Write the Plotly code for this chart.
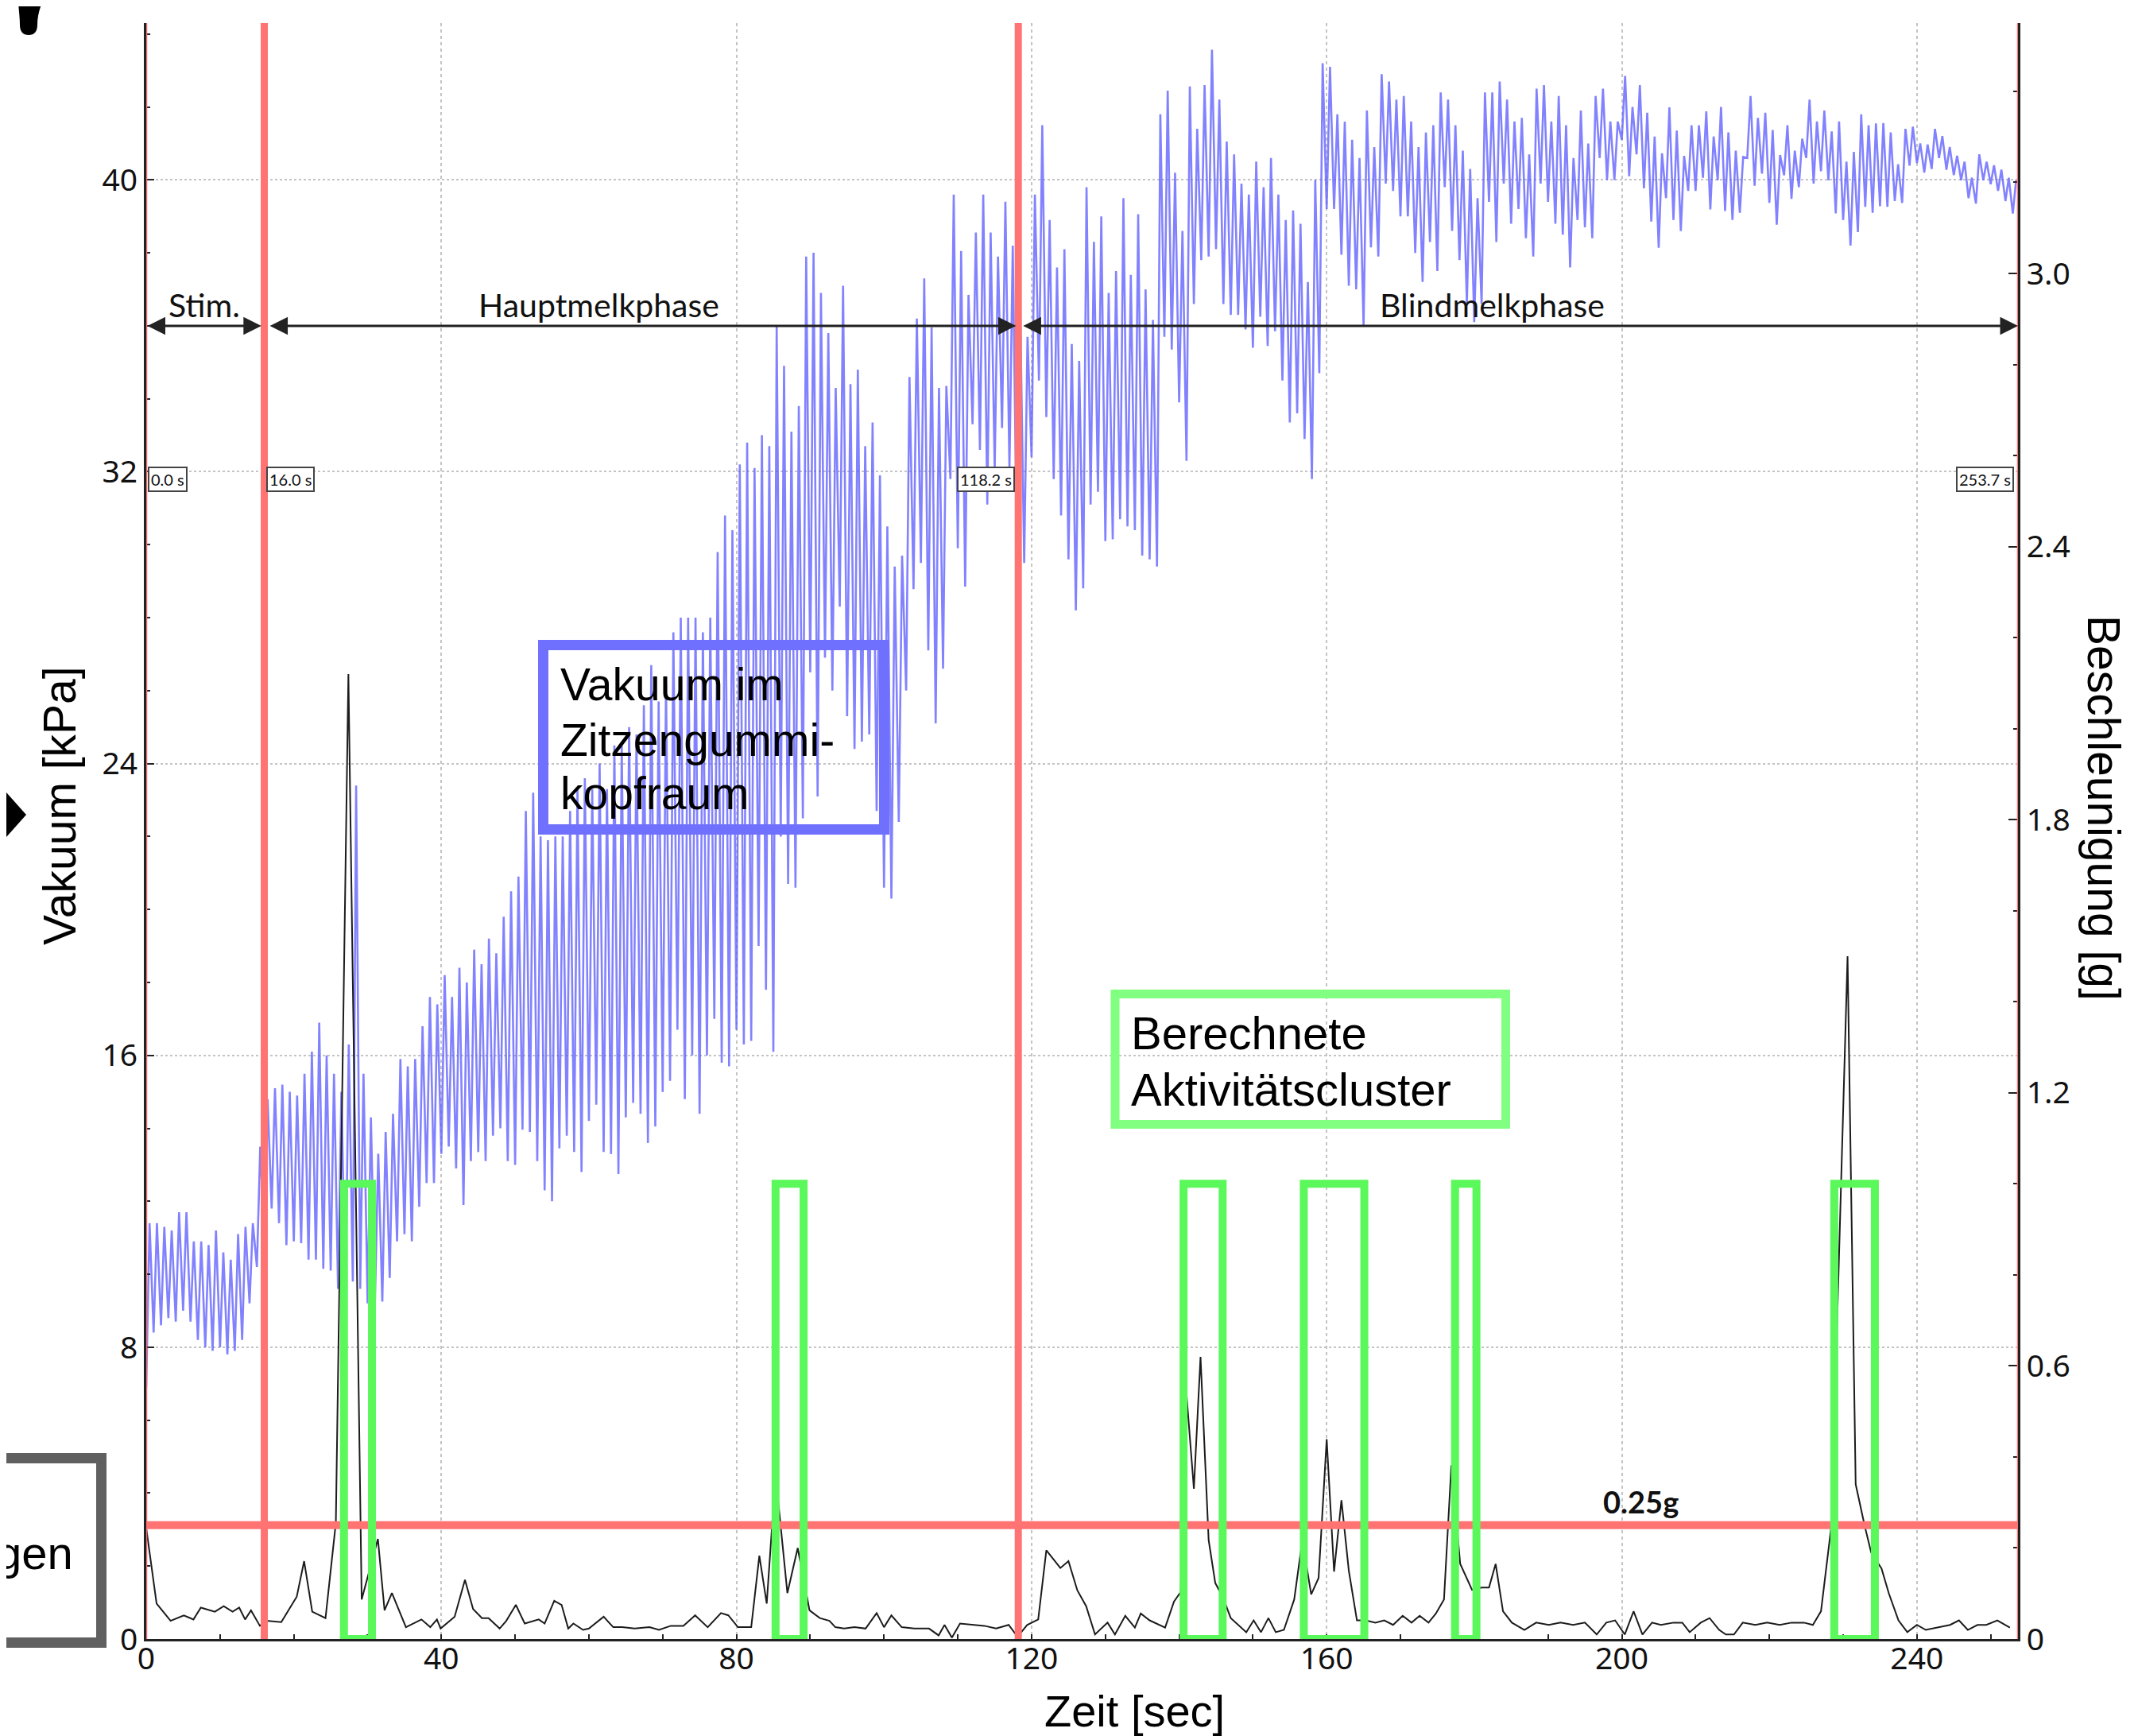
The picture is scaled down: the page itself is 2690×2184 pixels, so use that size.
import plotly.graph_objects as go

# ---------------- data ----------------
# Vacuum in the liner head space: one pulsation cycle per second, low / high value per cycle [kPa]
vac_lo = [
    6.9, 8.4, 8.6, 8.8, 8.7, 9.0, 8.7, 8.2, 8.0, 7.9, 8.0, 7.8, 7.9, 8.2, 9.2, 10.2,
    11.0,
    11.8, 11.4, 10.8, 10.9, 10.85, 10.4, 10.4, 10.15, 10.1, 9.6, 9.3, 9.8, 9.6, 9.2, 9.3, 9.25,
    9.9, 10.9, 11.1, 10.9, 11.85, 12.5,
    12.5, 13.3, 13.5, 12.9, 11.9, 13.1, 13.35, 13.1, 13.8, 14.0, 13.1,
    13.0, 13.96, 13.9, 13.1, 12.3, 12.0, 13.45, 13.8, 13.35, 12.8, 14.2, 14.65, 13.35, 13.3,
    12.75, 14.3, 14.7, 14.4, 13.6, 14.05, 15.0, 15.3, 16.7, 14.8, 16.0, 14.4, 16.0, 17.0,
    15.8, 15.7, 16.7, 16.3, 16.4, 19.0, 17.8, 16.1, 22.0, 20.7, 20.6, 22.5, 26.5, 23.1,
    26.9, 26.0, 28.3, 25.3, 24.4, 24.6, 24.8, 22.7, 20.6, 20.3, 22.4, 26.0,
    28.78, 29.5, 27.1, 25.1, 26.6, 31.8, 29.9, 28.85, 33.3, 32.6, 31.1, 32.06, 33.2, 32.06,
    30.0, 29.5, 32.4, 34.5, 33.5, 31.8, 30.8, 29.6, 28.2, 28.8, 31.1, 31.45, 30.1, 30.15,
    30.7, 30.5, 30.4, 29.7, 29.6, 29.4, 35.7, 35.35, 33.9, 32.3, 36.6, 37.8, 37.9, 38.1,
    36.6, 36.3, 36.3, 35.9, 35.4,
    36.25, 35.45, 35.85, 34.5, 33.35, 33.6, 32.9, 31.8, 34.7, 39.2, 39.2, 37.95, 37.1, 37.0,
    36.0, 38.15, 37.9, 39.9, 39.7, 39.0, 39.0, 38.0, 37.2, 38.3, 37.5, 39.8, 38.6, 37.8,
    36.6, 36.1, 36.6, 39.4, 38.3, 39.9, 38.8, 39.2, 38.4, 37.9, 39.9, 39.4, 38.8, 38.5,
    37.6, 38.9, 38.7, 38.4, 40.6, 40.0, 40.0, 41.1, 40.1, 40.7,
    39.77, 38.86, 38.14, 39.5, 38.9, 38.6, 39.7, 39.7, 40.06, 39.19, 39.99, 39.15, 38.9,
    39.1, 40.6, 39.84, 40.17, 39.37, 38.77, 40.13, 39.48, 39.8, 40.6, 39.9, 40.24, 39.99,
    39.08, 38.9, 38.2, 38.57, 39.26, 39.1, 39.28, 39.26, 39.42, 39.37, 40.39, 40.46, 40.2,
    40.3, 40.6, 40.28, 40.13, 39.99, 39.5, 39.35, 39.99, 39.88, 39.7, 39.42, 39.08,
]
vac_hi = [
    11.4, 11.4, 11.3, 11.2, 11.7, 11.7, 10.9, 10.9, 10.8, 11.2, 10.6, 10.4, 11.1, 11.3, 11.4, 13.5,
    14.8,
    15.1, 15.2, 15.0, 14.9, 15.5, 16.1, 16.9, 16.0, 15.5, 15.0, 16.3, 23.4, 15.5, 14.3, 13.3,
    13.9, 14.4, 15.9, 15.7, 15.9, 16.8, 17.6,
    17.4, 18.2, 17.6, 18.4, 18.0, 18.9, 18.5, 19.2, 18.8, 19.8,
    20.5, 20.9, 22.7, 23.2, 22.0, 21.9, 22.0, 22.0, 22.7, 23.3, 23.6, 23.3, 24.0, 23.3, 24.5,
    24.5, 25.0, 24.8, 25.6, 26.7, 25.7, 26.2, 27.6, 28.0, 28.0, 28.0, 27.6, 28.0, 29.8, 30.8,
    30.4, 32.2, 32.8, 32.1, 33.0, 32.7, 36.0, 34.9, 33.1, 33.8, 37.9, 38.0, 36.9, 35.8, 34.3,
    37.1, 34.4, 34.8, 32.7, 33.35, 31.9, 30.5, 29.4, 29.7, 34.6,
    36.2, 37.3, 35.96, 34.3, 34.35, 39.6, 38.05, 36.85, 38.56, 39.6, 38.56, 37.9, 39.4, 38.2,
    36.5, 35.7, 39.6, 41.5, 38.9, 37.6, 38.1, 35.5, 35.04, 39.8, 38.3, 39.0, 36.9, 37.5,
    39.5, 37.4, 39.06, 37.0, 36.16, 41.8, 42.45, 40.2, 38.6, 42.56, 41.4, 42.6, 43.57, 42.2,
    41.05, 40.7, 39.9, 39.6, 40.5, 39.8, 40.6,
    39.6, 38.9, 39.16, 38.8, 37.2, 40.0, 43.2, 43.1, 41.8, 41.6, 41.1, 40.6, 41.9, 40.9,
    42.9, 42.7, 42.2, 42.3, 41.6, 40.9, 41.3, 41.5, 42.4, 42.2, 41.5, 40.8, 40.3, 39.5,
    42.4, 42.4, 42.7, 42.2, 41.6, 41.7, 40.7, 42.5, 42.6, 41.6, 42.3, 41.5, 40.6, 41.9,
    41.0, 42.3, 42.5, 41.6, 41.6, 42.85, 42.0, 42.6,
    41.84, 41.19, 40.73, 41.99, 41.35, 40.66, 41.5, 41.5, 41.88, 41.19, 42.0, 41.3, 40.8,
    40.63, 42.3, 41.7, 41.84, 41.37, 40.68, 41.5, 40.8, 41.13, 42.2, 41.6, 41.9, 41.33,
    41.6, 40.5, 40.77, 41.8, 41.5, 41.55, 41.56, 41.3, 40.43, 41.4, 41.46, 41.0, 40.97,
    41.4, 41.2, 40.9, 40.66, 40.5, 40.06, 40.7, 40.5, 40.4, 40.28, 40.06, 40.0,
]

# Acceleration (right axis) [g]
acc_t = [
    0.0, 1.4, 3.3, 5.1, 6.4, 7.4, 9.3, 10.5, 11.7, 12.6,
    13.4, 14.2, 15.4, 16.3, 18.3, 20.4, 21.4, 22.5, 24.3, 25.7,
    27.4, 29.2, 31.4, 32.3, 33.3, 35.2, 37.3, 38.5, 39.4, 39.9,
    41.8, 43.2, 44.3, 45.5, 46.4, 47.9, 48.8, 50.1, 51.3, 53.2,
    54.0, 55.3, 56.3, 57.2, 57.9, 59.2, 60.0, 62.0, 63.3, 64.5,
    66.2, 68.2, 69.5, 71.1, 72.8, 74.4, 76.1, 77.9, 78.9, 80.2,
    82.0, 83.1, 84.1, 85.3, 86.9, 88.3, 89.9, 91.3, 92.6, 93.4,
    94.6, 96.0, 97.5, 99.0, 100.0, 101.0, 102.4, 104.1, 106.1, 107.4,
    108.2, 109.2, 110.3, 111.9, 113.6, 115.2, 116.9, 118.1, 119.4, 120.9,
    122.0, 123.9, 125.0, 126.2, 127.4, 128.6, 130.3, 131.3, 132.7, 134.0,
    134.8, 136.0, 138.1, 139.3, 140.2, 141.0, 142.0, 142.9, 144.0, 144.9,
    145.9, 147.0, 148.0, 149.1, 150.1, 151.1, 152.1, 153.1, 154.2, 155.6,
    156.7, 157.9, 158.9, 160.0, 161.0, 162.0, 163.0, 164.1, 165.3, 166.6,
    167.8, 169.0, 170.3, 171.5, 172.6, 173.8, 174.8, 175.9, 176.9, 178.1,
    179.7, 181.0, 182.0, 182.9, 183.9, 185.1, 186.8, 188.4, 190.1, 191.7,
    193.4, 195.0, 196.6, 197.9, 199.1, 200.4, 201.6, 202.8, 204.1, 205.3,
    207.0, 208.2, 209.2, 210.7, 211.9, 213.2, 214.1, 215.2, 216.4, 218.1,
    219.7, 221.4, 223.0, 224.7, 225.9, 227.0, 228.4, 229.5, 230.6, 231.7,
    232.9, 233.8, 235.2, 236.2, 237.5, 238.7, 240.0, 241.2, 242.8, 244.5,
    245.7, 246.9, 248.2, 249.4, 250.9, 252.6,
]
acc_g = [
    0.244, 0.078, 0.040, 0.052, 0.043, 0.069, 0.060, 0.072, 0.060, 0.069,
    0.043, 0.063, 0.029, 0.040, 0.037, 0.093, 0.171, 0.060, 0.046, 0.255,
    2.12, 0.087, 0.22, 0.063, 0.101, 0.026, 0.043, 0.026, 0.043, 0.023,
    0.049, 0.130, 0.066, 0.046, 0.046, 0.023, 0.040, 0.075, 0.034, 0.043,
    0.034, 0.084, 0.075, 0.023, 0.034, 0.020, 0.023, 0.049, 0.026, 0.026,
    0.023, 0.026, 0.020, 0.029, 0.029, 0.052, 0.026, 0.057, 0.052, 0.026,
    0.026, 0.183, 0.078, 0.360, 0.101, 0.20, 0.063, 0.046, 0.040, 0.026,
    0.023, 0.026, 0.023, 0.057, 0.026, 0.052, 0.026, 0.023, 0.023, 0.008,
    0.031, 0.003, 0.034, 0.031, 0.029, 0.023, 0.031, 0.005, 0.031, 0.043,
    0.195, 0.156, 0.171, 0.107, 0.072, 0.010, 0.036, 0.010, 0.051, 0.025,
    0.056, 0.041, 0.025, 0.082, 0.103, 0.537, 0.33, 0.62, 0.217, 0.123,
    0.093, 0.046, 0.031, 0.015, 0.041, 0.015, 0.046, 0.015, 0.020, 0.087,
    0.217, 0.098, 0.134, 0.439, 0.148, 0.305, 0.150, 0.041, 0.041, 0.036,
    0.041, 0.031, 0.051, 0.036, 0.051, 0.036, 0.056, 0.087, 0.382, 0.165,
    0.108, 0.113, 0.113, 0.165, 0.061, 0.036, 0.020, 0.036, 0.031, 0.036,
    0.031, 0.036, 0.010, 0.036, 0.041, 0.010, 0.061, 0.010, 0.036, 0.031,
    0.036, 0.036, 0.015, 0.036, 0.046, 0.020, 0.010, 0.010, 0.036, 0.031,
    0.036, 0.031, 0.036, 0.036, 0.031, 0.061, 0.248, 0.87, 1.50, 0.34,
    0.25, 0.19, 0.155, 0.10, 0.041, 0.015, 0.031, 0.020, 0.025, 0.031,
    0.041, 0.020, 0.031, 0.031, 0.041, 0.025,
]

# Calculated activity clusters [s]
cluster_start = [26.8, 85.3, 140.6, 156.9, 177.4, 228.8]
cluster_end = [30.6, 89.1, 145.9, 165.1, 180.3, 234.3]
cluster_top_g = 1.0

phase_marks = [0.0, 16.0, 118.2, 253.7]
phase_mark_labels = ["0.0 s", "16.0 s", "118.2 s", "253.7 s"]
phase_names = ["Stim.", "Hauptmelkphase", "Blindmelkphase"]
threshold_g = 0.25

x_ticks = [0, 40, 80, 120, 160, 200, 240]
vac_ticks = [0, 8, 16, 24, 32, 40]
acc_ticks = [0, 0.6, 1.2, 1.8, 2.4, 3.0]
acc_ticktext = ["0", "0.6", "1.2", "1.8", "2.4", "3.0"]

# ---------------- layout geometry (page pixels) ----------------
PAGE_W, PAGE_H = 2690, 2184
OFF = 8                       # default body margin of the html page
W, H = PAGE_W - OFF, PAGE_H - OFF
L, R, T, B = 184, 2539, 29, 2062   # plot area in page pixels


def px(x):
    return (x - L) / (R - L)


def py(y):
    return (B - y) / (B - T)


vac_t, vac_v = [], []
for i, (lo, hi) in enumerate(zip(vac_lo, vac_hi)):
    vac_t += [i, i + 0.45]
    vac_v += [lo, hi]

fig = go.Figure()
fig.add_trace(go.Scatter(x=vac_t, y=vac_v, mode="lines",
                         line=dict(color="rgba(95,95,255,0.78)", width=2.6),
                         yaxis="y", hoverinfo="skip"))
fig.add_trace(go.Scatter(x=acc_t, y=acc_g, mode="lines",
                         line=dict(color="#1c1c1c", width=2),
                         yaxis="y2", hoverinfo="skip"))

shapes = []
RED = "#FF7373"
for k, t in enumerate(phase_marks):
    w = 9 if k in (1, 2) else 2.5
    shapes.append(dict(type="line", xref="x", yref="paper", x0=t, x1=t, y0=0, y1=1,
                       line=dict(color=RED, width=w), layer="above"))
shapes.append(dict(type="line", xref="paper", yref="y2", x0=0, x1=1, y0=threshold_g, y1=threshold_g,
                   line=dict(color=RED, width=10), layer="above"))
for s, e in zip(cluster_start, cluster_end):
    shapes.append(dict(type="rect", xref="x", yref="y2", x0=s, x1=e, y0=0, y1=cluster_top_g,
                       line=dict(color="#5AF85A", width=10), fillcolor="rgba(0,0,0,0)", layer="above"))
shapes.append(dict(type="rect", xref="paper", yref="paper", x0=px(683.5), x1=px(1112.5),
                   y0=py(1043.5), y1=py(811.5), line=dict(color="#7070FF", width=13),
                   fillcolor="rgba(0,0,0,0)", layer="above"))
shapes.append(dict(type="rect", xref="paper", yref="paper", x0=px(1403), x1=px(1894.5),
                   y0=py(1414.5), y1=py(1250.5), line=dict(color="#80FF80", width=11),
                   fillcolor="rgba(0,0,0,0)", layer="above"))
shapes.append(dict(type="rect", xref="paper", yref="paper", x0=px(-30), x1=px(127.5),
                   y0=py(2066.5), y1=py(1834.5), line=dict(color="#606060", width=13),
                   fillcolor="rgba(0,0,0,0)", layer="above"))


def pth(pts):
    s = ""
    for cmd, coords in pts:
        s += cmd + " " + " ".join("%.5f,%.5f" % (px(a), py(b)) for a, b in coords) + " "
    return s + "Z"


shapes.append(dict(type="path", xref="paper", yref="paper",
                   path=pth([("M", [(-20, 1025)]), ("L", [(8, 997)]), ("L", [(33, 1025)]), ("L", [(8, 1053)])]),
                   fillcolor="black", line=dict(color="black", width=0), layer="above"))
shapes.append(dict(type="path", xref="paper", yref="paper",
                   path=pth([("M", [(23, -2)]), ("L", [(55, -2)]),
                             ("C", [(50, 10), (47, 20), (47, 31)]),
                             ("Q", [(47, 44), (36, 44)]),
                             ("Q", [(25, 44), (25, 31)]),
                             ("C", [(25, 20), (23, 10), (23, -2)])]),
                   fillcolor="black", line=dict(color="black", width=0), layer="above"))

ann = []
ARIAL = "Liberation Sans, Arial, sans-serif"
CAL = "Lato, Carlito, Calibri, sans-serif"
ann.append(dict(text="Vakuum [kPa]", xref="paper", yref="paper", x=px(75), y=py(1014),
                textangle=-90, showarrow=False, xanchor="center", yanchor="middle",
                font=dict(family=ARIAL, size=57, color="black")))
ann.append(dict(text="Beschleunigung [g]", xref="paper", yref="paper", x=px(2647), y=py(1016),
                textangle=90, showarrow=False, xanchor="center", yanchor="middle",
                font=dict(family=ARIAL, size=57, color="black")))
ann.append(dict(text="Zeit [sec]", xref="paper", yref="paper", x=px(1427), y=py(2152),
                showarrow=False, xanchor="center", yanchor="middle",
                font=dict(family=ARIAL, size=56, color="black")))
for txt, yy in zip(["Vakuum im", "Zitzengummi-", "kopfraum"], [861, 930.6, 998]):
    ann.append(dict(text=txt, xref="paper", yref="paper", x=px(703), y=py(yy), showarrow=False,
                    xanchor="left", yanchor="middle", font=dict(family=ARIAL, size=57, color="black")))
for txt, yy in zip(["Berechnete", "Aktivitätscluster"], [1299, 1370]):
    ann.append(dict(text=txt, xref="paper", yref="paper", x=px(1421), y=py(yy), showarrow=False,
                    xanchor="left", yanchor="middle", font=dict(family=ARIAL, size=58, color="black")))
ann.append(dict(text="gen", xref="paper", yref="paper", x=px(94), y=py(1953), showarrow=False,
                xanchor="right", yanchor="middle", font=dict(family=ARIAL, size=58, color="black")))
arrow_y = 36.0
arrow_spans = [(0.0, 15.6), (16.6, 117.9), (118.7, 253.7)]
for a0, a1 in arrow_spans:
    ann.append(dict(text="", x=a1, y=arrow_y, ax=a0, ay=arrow_y, xref="x", yref="y",
                    axref="x", ayref="y", showarrow=True, arrowside="end+start",
                    arrowhead=2, startarrowhead=2, arrowsize=1.5, startarrowsize=1.5,
                    arrowwidth=3, arrowcolor="#222", standoff=0, startstandoff=0))
phase_label_x = [7.9, 61.4, 182.4]
for name, xc in zip(phase_names, phase_label_x):
    ann.append(dict(text=name, x=xc, y=36.57, xref="x", yref="y", showarrow=False,
                    xanchor="center", yanchor="middle", font=dict(family=CAL, size=41, color="#111")))
for k, (t, lab) in enumerate(zip(phase_marks, phase_mark_labels)):
    left = k in (0, 1)
    ann.append(dict(text=lab, x=t + (0.25 if left else -0.5), y=31.8, xref="x", yref="y",
                    showarrow=False, xanchor="left" if left else "right", yanchor="middle",
                    font=dict(family=CAL, size=20, color="#111"),
                    bgcolor="white", bordercolor="#444", borderwidth=2, borderpad=2))
ann.append(dict(text="<b>0.25g</b>", x=202.6, y=0.302, xref="x", yref="y2", showarrow=False,
                xanchor="center", yanchor="middle", font=dict(family=CAL, size=38, color="#111")))

TICKFONT = dict(family="Noto Sans, Open Sans, sans-serif", size=39, color="#111")
fig.update_layout(
    width=W, height=H,
    margin=dict(l=L - OFF, r=W - (R - OFF), t=T - OFF, b=H - (B - OFF), autoexpand=False),
    paper_bgcolor="white", plot_bgcolor="white", showlegend=False,
    xaxis=dict(range=[0, 253.7], tickvals=x_ticks, ticks="inside", ticklen=6, tickwidth=2,
               tickcolor="#222", showline=True, linecolor="#222", linewidth=3,
               showgrid=True, gridcolor="#C4C4C4", gridwidth=1.5, griddash="4px,4px",
               zeroline=False, tickfont=TICKFONT, ticklabelstandoff=-12,
               minor=dict(dtick=10, tick0=0, ticks="inside", ticklen=6, tickcolor="#222",
                          tickwidth=2, showgrid=False)),
    yaxis=dict(range=[0, 44.3], tickvals=vac_ticks, ticks="inside", ticklen=10, tickwidth=2,
               tickcolor="#222", showline=True, linecolor="#222", linewidth=3,
               showgrid=True, gridcolor="#C4C4C4", gridwidth=1.5, griddash="dot",
               zeroline=False, tickfont=TICKFONT,
               minor=dict(dtick=2, tick0=0, ticks="inside", ticklen=5, tickcolor="#222",
                          tickwidth=2, showgrid=False)),
    yaxis2=dict(range=[0, 3.55], overlaying="y", side="right", tickvals=acc_ticks,
                ticktext=acc_ticktext, ticks="inside", ticklen=12, tickwidth=2,
                tickcolor="#222", showline=True, linecolor="#222", linewidth=3,
                showgrid=False, zeroline=False, tickfont=TICKFONT,
                minor=dict(dtick=0.2, tick0=0, ticks="inside", ticklen=6, tickcolor="#222",
                           tickwidth=2, showgrid=False)),
    shapes=shapes,
    annotations=ann,
)

fig.write_html("out.html")
